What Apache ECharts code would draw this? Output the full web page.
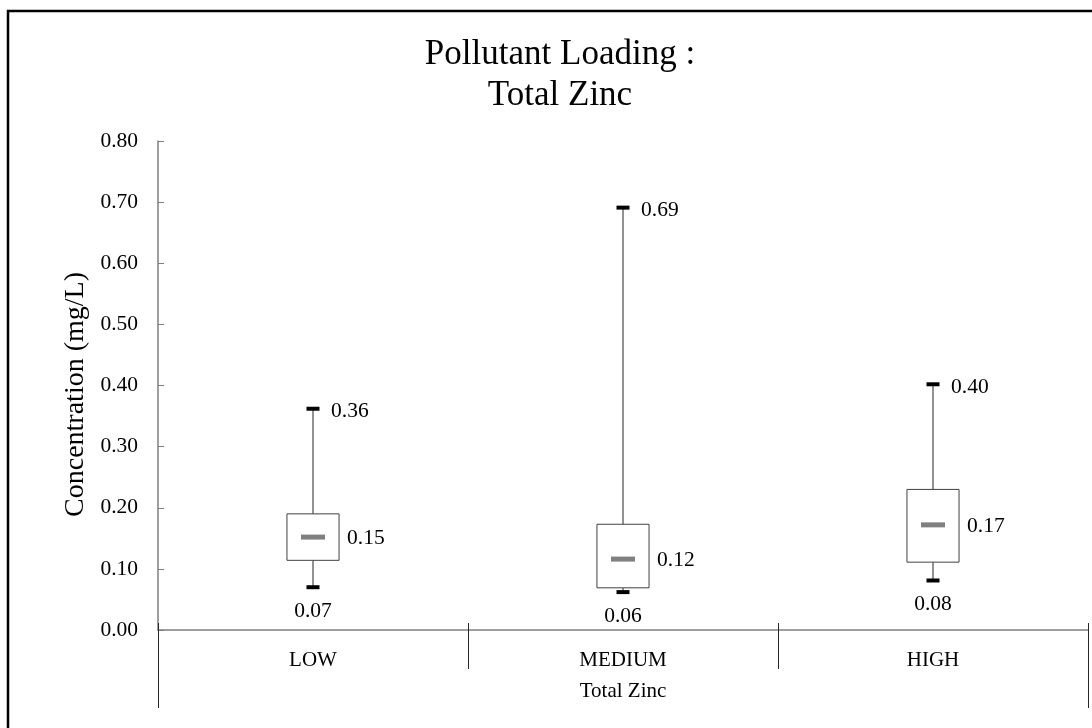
<!DOCTYPE html>
<html>
<head>
<meta charset="utf-8">
<script src="https://cdn.jsdelivr.net/npm/echarts@6/dist/echarts.min.js"></script>
<style>html,body{margin:0;padding:0;background:#fff;}#c{width:1092px;height:728px;}</style>
</head>
<body>
<div id="c"></div>
<script>
var categories = ['LOW', 'MEDIUM', 'HIGH'];
var groupLabel = ['Total Zinc'];
var minValues = [0.070, 0.062, 0.081];
var q1Values = [0.114, 0.069, 0.111];
var medianValues = [0.152, 0.116, 0.172];
var q3Values = [0.190, 0.173, 0.230];
var maxValues = [0.362, 0.691, 0.402];
var yTicks = { min: 0, max: 0.8, step: 0.1 };

var FONT = "'Liberation Serif', 'Times New Roman', serif";

var chart = echarts.init(document.getElementById('c'), null, { renderer: 'canvas' });

var seriesData = categories.map(function (c, i) {
  return [i, minValues[i], q1Values[i], medianValues[i], q3Values[i], maxValues[i]];
});

function renderItem(params, api) {
  var idx = api.value(0);
  var vMin = api.value(1), vQ1 = api.value(2), vMed = api.value(3), vQ3 = api.value(4), vMax = api.value(5);
  var pMin = api.coord([idx, vMin]);
  var pQ1 = api.coord([idx, vQ1]);
  var pMed = api.coord([idx, vMed]);
  var pQ3 = api.coord([idx, vQ3]);
  var pMax = api.coord([idx, vMax]);
  var band = api.size([1, 0])[0];
  var bw = band * 0.168;
  var x = pMed[0];
  var capW = 13, capH = 4, medW = 24, medH = 5;
  var txt = { fontFamily: FONT, fontSize: 21.5, fill: '#000' };
  function label(s, px, py, align, valign) {
    return { type: 'text', style: Object.assign({ text: s, x: px, y: py, align: align, verticalAlign: valign }, txt) };
  }
  return {
    type: 'group',
    children: [
      { type: 'line', shape: { x1: x, y1: pMax[1], x2: x, y2: pQ3[1] }, style: { stroke: '#262626', lineWidth: 1 } },
      { type: 'line', shape: { x1: x, y1: pQ1[1], x2: x, y2: pMin[1] }, style: { stroke: '#262626', lineWidth: 1 } },
      { type: 'rect', shape: { x: x - bw / 2, y: pQ3[1], width: bw, height: pQ1[1] - pQ3[1] }, style: { fill: '#fff', stroke: '#404040', lineWidth: 1 } },
      { type: 'rect', shape: { x: x - medW / 2, y: pMed[1] - medH / 2, width: medW, height: medH }, style: { fill: '#808080' } },
      { type: 'rect', shape: { x: x - capW / 2, y: pMax[1] - capH / 2, width: capW, height: capH }, style: { fill: '#000' } },
      { type: 'rect', shape: { x: x - capW / 2, y: pMin[1] - capH / 2, width: capW, height: capH }, style: { fill: '#000' } },
      label(vMax.toFixed(2), x + 18, pMax[1] + 3, 'left', 'middle'),
      label(vMed.toFixed(2), x + bw / 2 + 8, pMed[1] + 1, 'left', 'middle'),
      label(vMin.toFixed(2), x, pMin[1] + 24, 'center', 'middle')
    ]
  };
}

var option = {
  backgroundColor: '#fff',
  animation: false,
  title: {
    text: 'Pollutant Loading :\nTotal Zinc',
    left: 555,
    top: 29,
    textAlign: 'center',
    textStyle: { fontFamily: FONT, fontSize: 35, fontWeight: 'normal', color: '#000', lineHeight: 41 }
  },
  graphic: [
    { type: 'rect', z: 100, silent: true, shape: { x: 8, y: 11, width: 1200, height: 1000 }, style: { fill: null, stroke: '#000', lineWidth: 2.5 } }
  ],
  grid: { left: 158, right: 4, top: 141, bottom: 98, containLabel: false },
  xAxis: [
    {
      type: 'category', data: categories, position: 'bottom', boundaryGap: true,
      axisLine: { show: true, lineStyle: { color: '#7f7f7f', width: 1.5 } },
      axisTick: { show: true, inside: true, length: 7, interval: 0, lineStyle: { color: '#262626' } },
      axisLabel: { show: true, interval: 0, margin: 20, fontFamily: FONT, fontSize: 21, color: '#000' },
      splitLine: { show: false }
    },
    {
      type: 'category', data: categories, position: 'bottom', offset: 0, boundaryGap: true,
      axisLine: { show: false },
      axisTick: { show: true, inside: false, length: 39, interval: 0, lineStyle: { color: '#262626' } },
      axisLabel: { show: false },
      splitLine: { show: false }
    },
    {
      type: 'category', data: groupLabel, position: 'bottom', offset: 0, boundaryGap: true,
      axisLine: { show: false },
      axisTick: { show: true, inside: false, length: 78, interval: 0, lineStyle: { color: '#262626' } },
      axisLabel: { show: true, interval: 0, margin: 51, fontFamily: FONT, fontSize: 21, color: '#000' },
      splitLine: { show: false }
    }
  ],
  yAxis: {
    type: 'value', min: yTicks.min, max: yTicks.max, interval: yTicks.step,
    name: 'Concentration (mg/L)', nameLocation: 'middle', nameGap: 66,
    nameTextStyle: { fontFamily: FONT, fontSize: 28, color: '#000', padding: [0, 18, 0, 0] },
    axisLine: { show: true, lineStyle: { color: '#7f7f7f', width: 1.5 } },
    axisTick: { show: true, inside: true, length: 6, lineStyle: { color: '#7f7f7f' } },
    axisLabel: { margin: 20, fontFamily: FONT, fontSize: 21.5, color: '#000', formatter: function (v) { return v.toFixed(2); } },
    splitLine: { show: false }
  },
  series: [
    { type: 'custom', xAxisIndex: 0, yAxisIndex: 0, renderItem: renderItem, data: seriesData, encode: { x: 0, y: [1, 2, 3, 4, 5] }, clip: false }
  ]
};
chart.setOption(option);
</script>
</body>
</html>
